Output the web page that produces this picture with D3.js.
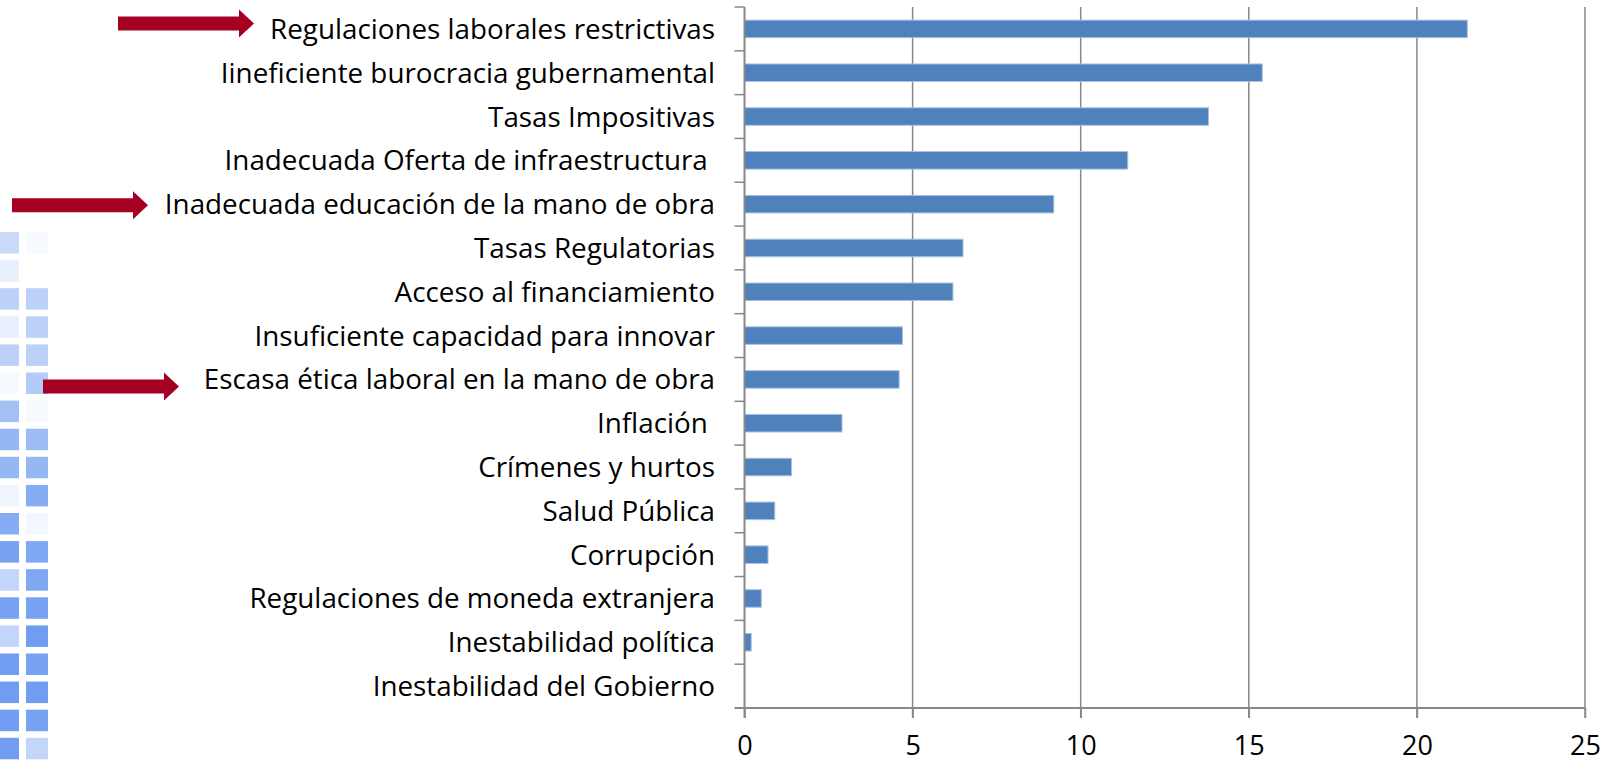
<!DOCTYPE html>
<html>
<head>
<meta charset="utf-8">
<script src="https://cdn.jsdelivr.net/npm/d3@7"></script>
<style>
  body { margin: 0; background: #fff; }
  text { font-family: "Open Sans", Lato, sans-serif; fill: #000; }
</style>
</head>
<body>
<div id="chart"></div>
<script>
// data
var categories = [
  "Regulaciones laborales restrictivas",
  "Iineficiente burocracia gubernamental",
  "Tasas Impositivas",
  "Inadecuada Oferta de infraestructura ",
  "Inadecuada educación de la mano de obra",
  "Tasas Regulatorias",
  "Acceso al financiamiento",
  "Insuficiente capacidad para innovar",
  "Escasa ética laboral en la mano de obra",
  "Inflación ",
  "Crímenes y hurtos",
  "Salud Pública",
  "Corrupción",
  "Regulaciones de moneda extranjera",
  "Inestabilidad política",
  "Inestabilidad del Gobierno"
];
var values = [21.5, 15.4, 13.8, 11.4, 9.2, 6.5, 6.2, 4.7, 4.6, 2.9, 1.4, 0.9, 0.7, 0.5, 0.2, 0];
var xTicks = [0, 5, 10, 15, 20, 25];

// rows pointed at by the red arrows
var arrowRows = [0, 4, 8];
var arrowStart = [118, 12, 43];
var arrowShift = [-5.5, 1, 7];

// decorative squares on the left edge (opacity per row)
var squaresCol1 = [0.35, 0.15, 0.45, 0.15, 0.45, 0.06, 0.6, 0.7, 0.7, 0.1, 0.8, 0.9, 0.4, 0.9, 0.4, 0.95, 0.95, 0.95, 0.95];
var squaresCol2 = [0.05, 0, 0.45, 0.45, 0.45, 0.5, 0.06, 0.65, 0.7, 0.8, 0.08, 0.85, 0.85, 0.9, 0.95, 0.9, 0.95, 0.9, 0.4];

var svgWidth = 1607;
var svgHeight = 764;

var plot = { left: 744.5, right: 1585, top: 7, bottom: 708 };

var svg = d3.select("#chart")
  .append("svg")
  .attr("width", svgWidth)
  .attr("height", svgHeight);

// left decoration
var deco = svg.append("g");
[squaresCol1, squaresCol2].forEach(function(col, c) {
  deco.selectAll(".sq" + c)
    .data(col)
    .enter()
    .append("rect")
    .attr("x", c === 0 ? -3 : 26)
    .attr("y", (d, i) => 232 + i * 28.1)
    .attr("width", 22)
    .attr("height", 21.5)
    .attr("fill", "#6898f0")
    .attr("opacity", d => d);
});

var xScale = d3.scaleLinear()
  .domain([0, 25])
  .range([plot.left, plot.right]);

var yScale = d3.scaleBand()
  .domain(categories)
  .range([plot.top, plot.bottom])
  .paddingInner(0.6)
  .paddingOuter(0.3);

var step = yScale.step();

// gridlines
svg.append("g")
  .selectAll("line")
  .data(xTicks.slice(1))
  .enter()
  .append("line")
  .attr("x1", d => xScale(d))
  .attr("x2", d => xScale(d))
  .attr("y1", plot.top)
  .attr("y2", plot.bottom + 10)
  .attr("stroke", "#888")
  .attr("stroke-width", 1.5);

// bars
svg.append("g")
  .selectAll("rect")
  .data(values)
  .enter()
  .append("rect")
  .attr("x", xScale(0))
  .attr("y", (d, i) => yScale(categories[i]))
  .attr("width", d => xScale(d) - xScale(0))
  .attr("height", yScale.bandwidth())
  .attr("fill", "#4f81bd")
  .attr("stroke", d => d > 0 ? "#a9c1e0" : "none")
  .attr("stroke-width", 1);

// bottom axis
var bottomAxis = d3.axisBottom(xScale)
  .tickValues(xTicks)
  .tickSize(10)
  .tickPadding(18);

var xAxis = svg.append("g")
  .attr("transform", `translate(0, ${plot.bottom})`)
  .call(bottomAxis);
xAxis.select(".domain")
  .attr("d", `M${plot.left - 10},0H${plot.right}`)
  .attr("stroke", "#888")
  .attr("stroke-width", 2);
xAxis.selectAll(".tick line").attr("stroke", "#888").attr("stroke-width", 1.5);
xAxis.selectAll(".tick text")
  .style("font-size", "27px")
  .attr("fill", "#000");

// left axis: line plus ticks on band boundaries
var yAxis = svg.append("g");
yAxis.append("line")
  .attr("x1", plot.left)
  .attr("x2", plot.left)
  .attr("y1", plot.top)
  .attr("y2", plot.bottom + 10)
  .attr("stroke", "#888")
  .attr("stroke-width", 2);
yAxis.selectAll(".btick")
  .data(categories)
  .enter()
  .append("line")
  .attr("x1", plot.left - 10)
  .attr("x2", plot.left)
  .attr("y1", (d, i) => plot.top + i * step)
  .attr("y2", (d, i) => plot.top + i * step)
  .attr("stroke", "#888")
  .attr("stroke-width", 1.5);

// category labels
svg.append("g")
  .selectAll("text")
  .data(categories)
  .enter()
  .append("text")
  .attr("x", 715)
  .attr("y", d => yScale(d) + yScale.bandwidth() / 2)
  .attr("dy", "0.36em")
  .attr("text-anchor", "end")
  .style("font-size", "27.8px")
  .style("white-space", "pre")
  .text(d => d);

// red arrows
var arrowColor = "#a50021";
svg.append("g")
  .selectAll("path")
  .data(arrowRows)
  .enter()
  .append("path")
  .attr("d", function(r, i) {
    var cy = yScale(categories[r]) + yScale.bandwidth() / 2 + arrowShift[i];
    var x0 = arrowStart[i], x1 = x0 + 121, tip = x1 + 15;
    return `M${x0},${cy - 7}H${x1}V${cy - 14}L${tip},${cy}L${x1},${cy + 14}V${cy + 7}H${x0}Z`;
  })
  .attr("fill", arrowColor);
</script>
</body>
</html>
